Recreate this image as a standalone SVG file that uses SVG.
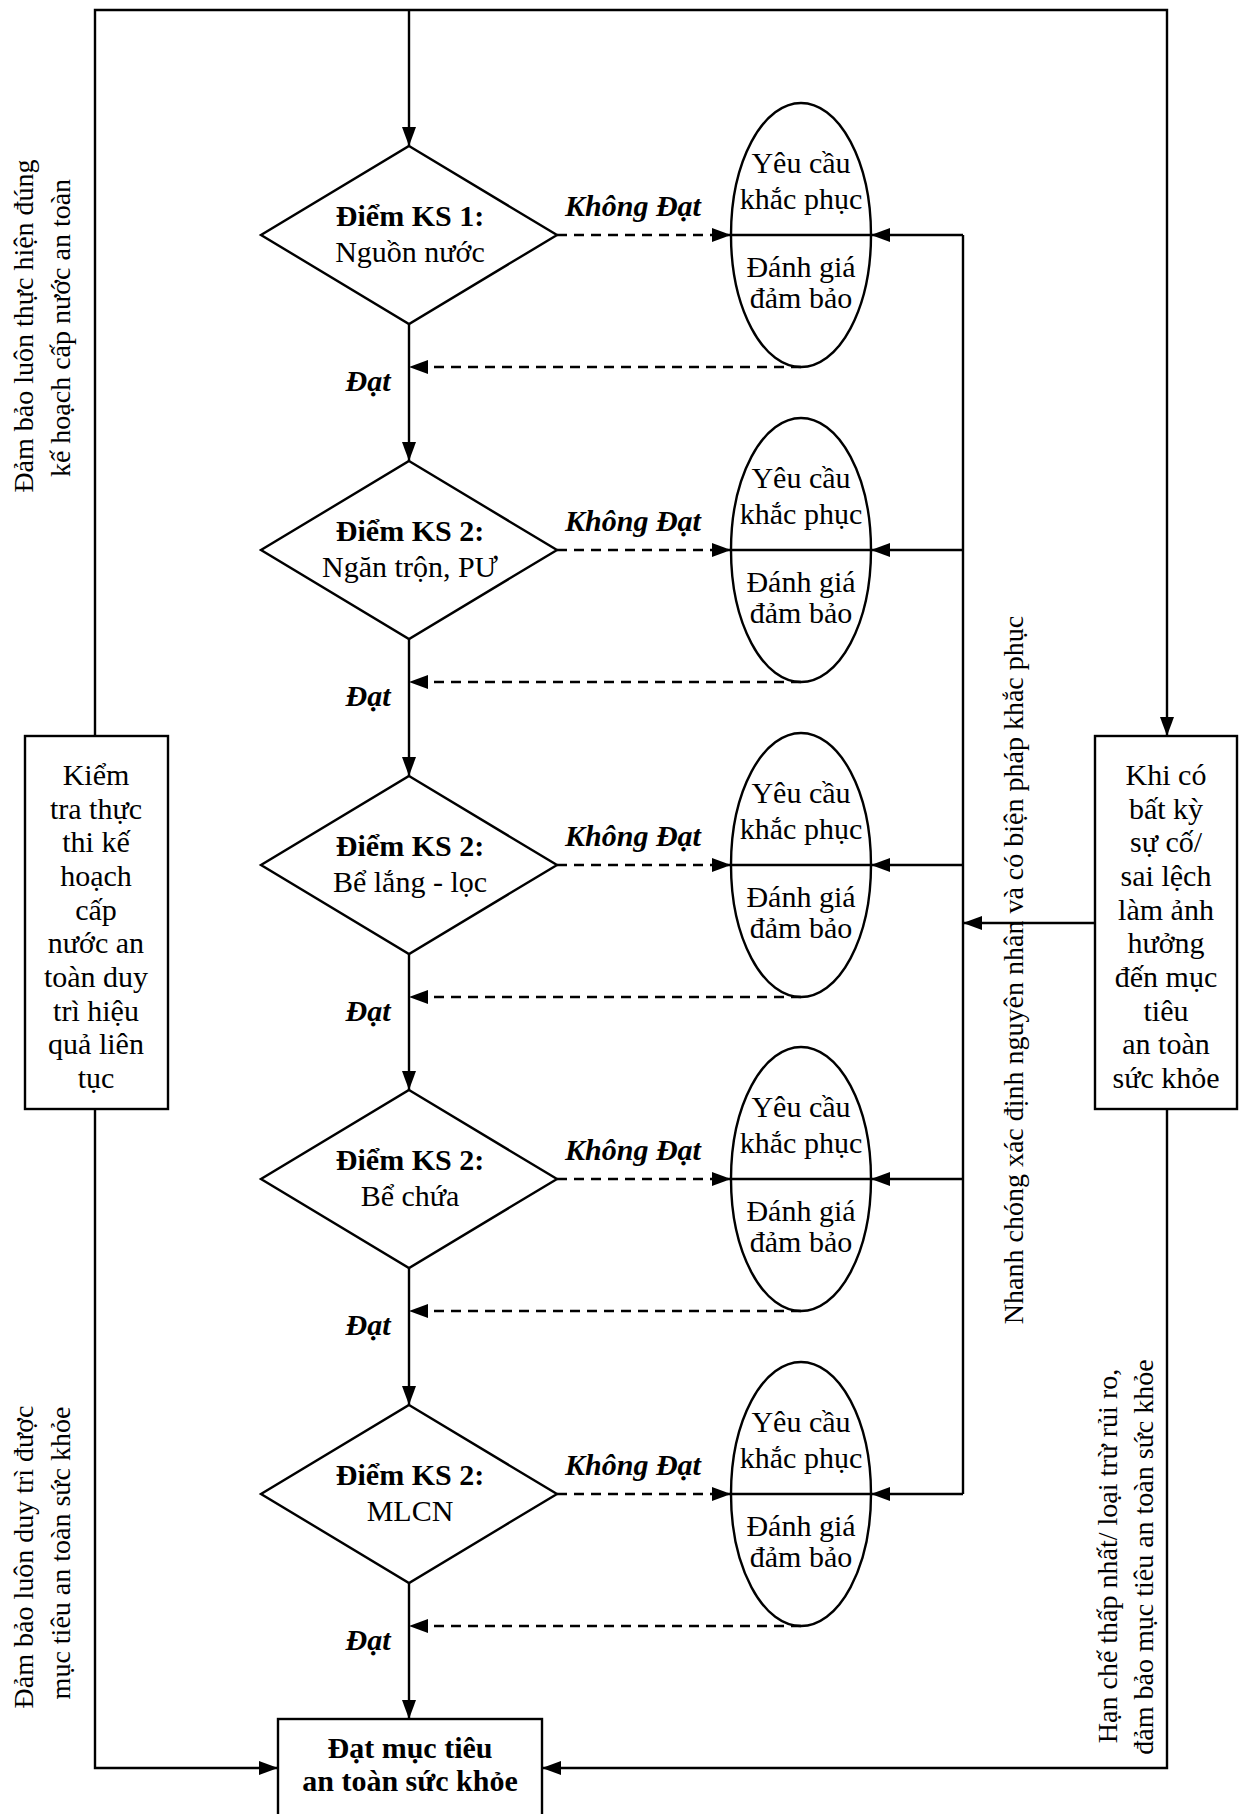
<svg xmlns="http://www.w3.org/2000/svg" width="1243" height="1814" viewBox="0 0 1243 1814">
  <defs>
    <marker id="arr" markerUnits="userSpaceOnUse" markerWidth="20" markerHeight="16" refX="19" refY="7" orient="auto">
      <path d="M0,0 L19,7 L0,14 z" fill="#000"/>
    </marker>
    <style>
      .ln{stroke:#000;stroke-width:2.4;fill:none}
      .dash{stroke-dasharray:10 7}
      .shape{stroke:#000;stroke-width:2.4;fill:#fff}
      .t{font-family:"Liberation Serif","Times New Roman",serif;font-size:30px;fill:#000;text-anchor:middle}
      .r{font-size:28px}
      .b{font-weight:bold}
      .bi{font-weight:bold;font-style:italic}
    </style>
  </defs>

  <!-- connectors -->
  <g id="connectors">
    <!-- top frame -->
    <polyline class="ln" points="95,736 95,10 1167,10 1167,736" marker-end="url(#arr)"/>
    <line class="ln" x1="409" y1="10" x2="409" y2="146" marker-end="url(#arr)"/>
    <!-- main flow between control points -->
    <line class="ln" x1="409" y1="324" x2="409" y2="461" marker-end="url(#arr)"/>
    <line class="ln" x1="409" y1="639" x2="409" y2="776" marker-end="url(#arr)"/>
    <line class="ln" x1="409" y1="954" x2="409" y2="1090" marker-end="url(#arr)"/>
    <line class="ln" x1="409" y1="1268" x2="409" y2="1405" marker-end="url(#arr)"/>
    <line class="ln" x1="409" y1="1583" x2="409" y2="1719" marker-end="url(#arr)"/>
    <!-- failed checks to corrective action -->
    <line class="ln dash" x1="557" y1="235" x2="731" y2="235" marker-end="url(#arr)"/>
    <line class="ln dash" x1="557" y1="550" x2="731" y2="550" marker-end="url(#arr)"/>
    <line class="ln dash" x1="557" y1="865" x2="731" y2="865" marker-end="url(#arr)"/>
    <line class="ln dash" x1="557" y1="1179" x2="731" y2="1179" marker-end="url(#arr)"/>
    <line class="ln dash" x1="557" y1="1494" x2="731" y2="1494" marker-end="url(#arr)"/>
    <!-- corrective action back to main flow -->
    <line class="ln dash" x1="801" y1="367" x2="409" y2="367" marker-end="url(#arr)"/>
    <line class="ln dash" x1="801" y1="682" x2="409" y2="682" marker-end="url(#arr)"/>
    <line class="ln dash" x1="801" y1="997" x2="409" y2="997" marker-end="url(#arr)"/>
    <line class="ln dash" x1="801" y1="1311" x2="409" y2="1311" marker-end="url(#arr)"/>
    <line class="ln dash" x1="801" y1="1626" x2="409" y2="1626" marker-end="url(#arr)"/>
    <!-- incident bus -->
    <line class="ln" x1="963" y1="235" x2="963" y2="1494"/>
    <line class="ln" x1="1095" y1="923" x2="963" y2="923" marker-end="url(#arr)"/>
    <line class="ln" x1="963" y1="235" x2="871" y2="235" marker-end="url(#arr)"/>
    <line class="ln" x1="963" y1="550" x2="871" y2="550" marker-end="url(#arr)"/>
    <line class="ln" x1="963" y1="865" x2="871" y2="865" marker-end="url(#arr)"/>
    <line class="ln" x1="963" y1="1179" x2="871" y2="1179" marker-end="url(#arr)"/>
    <line class="ln" x1="963" y1="1494" x2="871" y2="1494" marker-end="url(#arr)"/>
    <!-- bottom frame -->
    <polyline class="ln" points="95,1109 95,1768 278,1768" marker-end="url(#arr)"/>
    <polyline class="ln" points="1167,1109 1167,1768 542,1768" marker-end="url(#arr)"/>

    <!-- labels -->
    <text class="t bi" x="633" y="216">Không Đạt</text>
    <text class="t bi" x="633" y="531">Không Đạt</text>
    <text class="t bi" x="633" y="846">Không Đạt</text>
    <text class="t bi" x="633" y="1160">Không Đạt</text>
    <text class="t bi" x="633" y="1475">Không Đạt</text>
    <text class="t bi" x="368" y="391">Đạt</text>
    <text class="t bi" x="368" y="706">Đạt</text>
    <text class="t bi" x="368" y="1021">Đạt</text>
    <text class="t bi" x="368" y="1335">Đạt</text>
    <text class="t bi" x="368" y="1650">Đạt</text>

    <!-- side annotations -->
    <text class="t r" transform="translate(33,326) rotate(-90)">Đảm bảo luôn thực hiện đúng</text>
    <text class="t r" transform="translate(70,328) rotate(-90)">kế hoạch cấp nước an toàn</text>
    <text class="t r" transform="translate(33,1557) rotate(-90)">Đảm bảo luôn duy trì được</text>
    <text class="t r" transform="translate(70,1553) rotate(-90)">mục tiêu an toàn sức khỏe</text>
    <text class="t r" transform="translate(1023,970) rotate(-90)">Nhanh chóng xác định nguyên nhân và có biện pháp khắc phục</text>
    <text class="t r" transform="translate(1117,1556) rotate(-90)">Hạn chế thấp nhất/ loại trừ rủi ro,</text>
    <text class="t r" transform="translate(1153,1557) rotate(-90)">đảm bảo mục tiêu an toàn sức khỏe</text>
  </g>

  <!-- control points -->
  <g id="ks1">
    <polygon class="shape" points="409,146 557,235 409,324 261,235"/>
    <text class="t b" x="410" y="226">Điểm KS 1:</text>
    <text class="t" x="410" y="262">Nguồn nước</text>
  </g>
  <g id="ks2">
    <polygon class="shape" points="409,461 557,550 409,639 261,550"/>
    <text class="t b" x="410" y="541">Điểm KS 2:</text>
    <text class="t" x="410" y="577">Ngăn trộn, PƯ</text>
  </g>
  <g id="ks3">
    <polygon class="shape" points="409,776 557,865 409,954 261,865"/>
    <text class="t b" x="410" y="856">Điểm KS 2:</text>
    <text class="t" x="410" y="892">Bể lắng - lọc</text>
  </g>
  <g id="ks4">
    <polygon class="shape" points="409,1090 557,1179 409,1268 261,1179"/>
    <text class="t b" x="410" y="1170">Điểm KS 2:</text>
    <text class="t" x="410" y="1206">Bể chứa</text>
  </g>
  <g id="ks5">
    <polygon class="shape" points="409,1405 557,1494 409,1583 261,1494"/>
    <text class="t b" x="410" y="1485">Điểm KS 2:</text>
    <text class="t" x="410" y="1521">MLCN</text>
  </g>

  <!-- corrective action ellipses -->
  <g id="fix1">
    <ellipse class="ln" cx="801" cy="235" rx="70" ry="132"/>
    <line class="ln" x1="731" y1="235" x2="871" y2="235"/>
    <text class="t" x="801" y="173">Yêu cầu</text>
    <text class="t" x="801" y="209">khắc phục</text>
    <text class="t" x="801" y="277">Đánh giá</text>
    <text class="t" x="801" y="308">đảm bảo</text>
  </g>
  <g id="fix2">
    <ellipse class="ln" cx="801" cy="550" rx="70" ry="132"/>
    <line class="ln" x1="731" y1="550" x2="871" y2="550"/>
    <text class="t" x="801" y="488">Yêu cầu</text>
    <text class="t" x="801" y="524">khắc phục</text>
    <text class="t" x="801" y="592">Đánh giá</text>
    <text class="t" x="801" y="623">đảm bảo</text>
  </g>
  <g id="fix3">
    <ellipse class="ln" cx="801" cy="865" rx="70" ry="132"/>
    <line class="ln" x1="731" y1="865" x2="871" y2="865"/>
    <text class="t" x="801" y="803">Yêu cầu</text>
    <text class="t" x="801" y="839">khắc phục</text>
    <text class="t" x="801" y="907">Đánh giá</text>
    <text class="t" x="801" y="938">đảm bảo</text>
  </g>
  <g id="fix4">
    <ellipse class="ln" cx="801" cy="1179" rx="70" ry="132"/>
    <line class="ln" x1="731" y1="1179" x2="871" y2="1179"/>
    <text class="t" x="801" y="1117">Yêu cầu</text>
    <text class="t" x="801" y="1153">khắc phục</text>
    <text class="t" x="801" y="1221">Đánh giá</text>
    <text class="t" x="801" y="1252">đảm bảo</text>
  </g>
  <g id="fix5">
    <ellipse class="ln" cx="801" cy="1494" rx="70" ry="132"/>
    <line class="ln" x1="731" y1="1494" x2="871" y2="1494"/>
    <text class="t" x="801" y="1432">Yêu cầu</text>
    <text class="t" x="801" y="1468">khắc phục</text>
    <text class="t" x="801" y="1536">Đánh giá</text>
    <text class="t" x="801" y="1567">đảm bảo</text>
  </g>

  <!-- monitoring box -->
  <g id="monitor">
    <rect class="shape" x="25" y="736" width="143" height="373"/>
    <text class="t" x="96" y="785">Kiểm</text>
    <text class="t" x="96" y="819">tra thực</text>
    <text class="t" x="96" y="852">thi kế</text>
    <text class="t" x="96" y="886">hoạch</text>
    <text class="t" x="96" y="920">cấp</text>
    <text class="t" x="96" y="953">nước an</text>
    <text class="t" x="96" y="987">toàn duy</text>
    <text class="t" x="96" y="1021">trì hiệu</text>
    <text class="t" x="96" y="1054">quả liên</text>
    <text class="t" x="96" y="1088">tục</text>
  </g>

  <!-- incident box -->
  <g id="incident">
    <rect class="shape" x="1095" y="736" width="142" height="373"/>
    <text class="t" x="1166" y="785">Khi có</text>
    <text class="t" x="1166" y="819">bất kỳ</text>
    <text class="t" x="1166" y="852">sự cố/</text>
    <text class="t" x="1166" y="886">sai lệch</text>
    <text class="t" x="1166" y="920">làm ảnh</text>
    <text class="t" x="1166" y="953">hưởng</text>
    <text class="t" x="1166" y="987">đến mục</text>
    <text class="t" x="1166" y="1021">tiêu</text>
    <text class="t" x="1166" y="1054">an toàn</text>
    <text class="t" x="1166" y="1088">sức khỏe</text>
  </g>

  <!-- goal box -->
  <g id="goal">
    <rect class="shape" x="278" y="1719" width="264" height="120"/>
    <text class="t b" x="410" y="1758">Đạt mục tiêu</text>
    <text class="t b" x="410" y="1791">an toàn sức khỏe</text>
  </g>
</svg>
